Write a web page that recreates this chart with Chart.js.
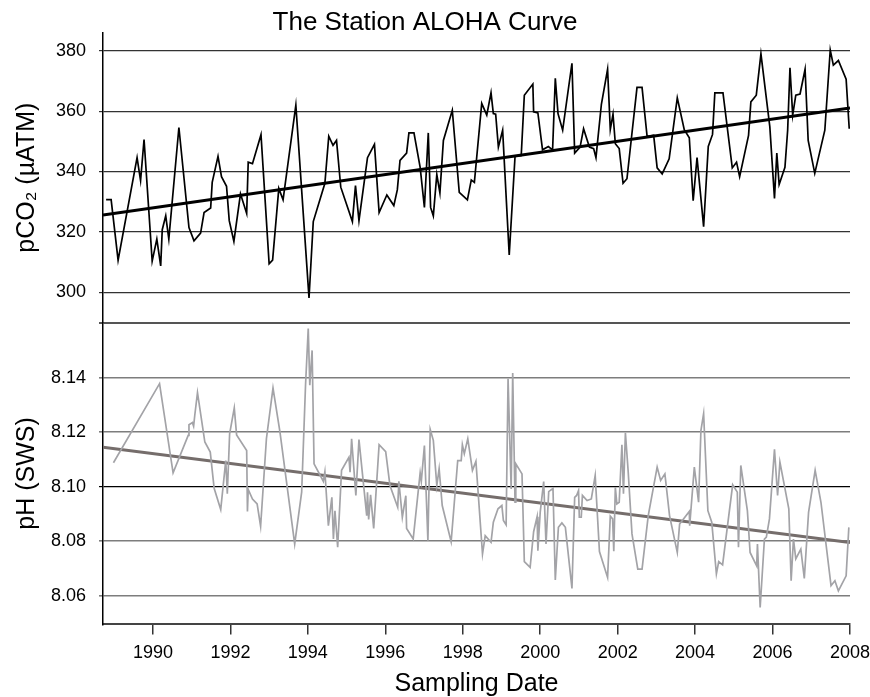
<!DOCTYPE html>
<html>
<head>
<meta charset="utf-8">
<title>The Station ALOHA Curve</title>
<script src="https://cdn.jsdelivr.net/npm/chart.js@4/dist/chart.umd.min.js"></script>
<style>
    html, body { margin: 0; padding: 0; background: #fff; }
    #wrap { width: 870px; height: 697px; }
</style>
</head>
<body>
<div id="wrap"><canvas id="alohaChart" width="870" height="697"></canvas></div>
<script>
"use strict";
// values (decimal years)
const pco2Dates = [
    1988.79, 1988.92, 1989.10, 1989.59, 1989.68, 1989.77, 1989.98, 1990.10, 1990.20, 1990.24,
    1990.33, 1990.41, 1990.67, 1990.93, 1991.06, 1991.23, 1991.32, 1991.49, 1991.53, 1991.68,
    1991.77, 1991.90, 1991.97, 1992.09, 1992.26, 1992.42, 1992.46, 1992.57, 1992.79, 1993.00,
    1993.09, 1993.25, 1993.36, 1993.69, 1994.03, 1994.14, 1994.44, 1994.54, 1994.65, 1994.74,
    1994.85, 1995.15, 1995.23, 1995.32, 1995.54, 1995.72, 1995.84, 1996.04, 1996.22, 1996.31,
    1996.38, 1996.55, 1996.61, 1996.74, 1996.90, 1997.01, 1997.11, 1997.17, 1997.24, 1997.33,
    1997.41, 1997.50, 1997.73, 1997.91, 1998.12, 1998.22, 1998.30, 1998.49, 1998.62, 1998.73,
    1998.79, 1998.85, 1998.92, 1999.03, 1999.20, 1999.35, 1999.51, 1999.59, 1999.81, 1999.83,
    1999.94, 2000.06, 2000.21, 2000.32, 2000.39, 2000.46, 2000.58, 2000.82, 2000.89, 2001.03,
    2001.12, 2001.27, 2001.38, 2001.44, 2001.58, 2001.74, 2001.81, 2001.88, 2001.94, 2002.04,
    2002.14, 2002.24, 2002.50, 2002.63, 2002.76, 2002.93, 2003.02, 2003.15, 2003.33, 2003.54,
    2003.72, 2003.85, 2003.95, 2004.05, 2004.22, 2004.34, 2004.45, 2004.51, 2004.72, 2004.96,
    2005.07, 2005.15, 2005.38, 2005.44, 2005.58, 2005.70, 2005.93, 2006.05, 2006.11, 2006.17,
    2006.32, 2006.39, 2006.45, 2006.52, 2006.60, 2006.71, 2006.84, 2006.92, 2007.09, 2007.35,
    2007.49, 2007.57, 2007.70, 2007.90, 2007.98
];
const pco2Values = [
    330.7, 330.7, 310.6, 344.6, 337.0, 350.6, 310.3, 317.6, 308.7, 320.7,
    325.3, 317.6, 354.6, 321.4, 317.0, 319.6, 326.4, 327.9, 336.4, 345.0,
    338.3, 335.1, 323.7, 316.8, 332.6, 326.1, 343.1, 342.6, 352.2, 309.4,
    310.6, 334.4, 330.6, 362.0, 298.1, 323.4, 336.1, 351.7, 348.7, 350.3,
    334.8, 323.4, 335.3, 323.7, 344.6, 349.0, 326.4, 332.2, 328.7, 333.9,
    343.7, 346.1, 352.8, 352.8, 341.4, 328.1, 352.8, 328.1, 325.3, 339.0,
    332.9, 350.3, 360.3, 333.1, 330.6, 337.2, 336.4, 362.6, 358.7, 366.1,
    359.2, 359.0, 348.1, 353.7, 312.3, 345.0, 345.3, 365.3, 369.0, 359.8,
    359.4, 347.2, 348.3, 347.2, 370.9, 359.2, 353.7, 375.9, 346.1, 348.1,
    354.2, 348.1, 347.6, 344.6, 362.3, 373.9, 353.9, 359.0, 349.2, 347.6,
    336.1, 337.6, 367.9, 367.9, 351.7, 352.0, 341.2, 339.2, 344.2, 364.4,
    353.9, 351.2, 330.3, 344.6, 321.7, 348.3, 352.3, 366.1, 366.1, 341.2,
    343.1, 338.3, 352.0, 363.1, 365.3, 379.0, 354.8, 331.1, 346.1, 335.7,
    341.4, 353.7, 374.4, 358.7, 365.3, 365.7, 373.9, 350.3, 339.4, 353.7,
    380.3, 375.3, 376.8, 370.6, 354.2
];
const pco2TrendDates = [1988.71, 2008.0];
const pco2TrendValues = [325.6, 361.1];

const phDates = [
    1988.98, 1990.17, 1990.52, 1990.91, 1990.93, 1991.02, 1991.05, 1991.08, 1991.15, 1991.34,
    1991.48, 1991.58, 1991.75, 1991.88, 1991.92, 1991.98, 1992.10, 1992.16, 1992.42, 1992.44,
    1992.46, 1992.57, 1992.69, 1992.78, 1992.93, 1993.10, 1993.28, 1993.66, 1993.84, 1993.94,
    1994.01, 1994.05, 1994.11, 1994.16, 1994.40, 1994.44, 1994.47, 1994.53, 1994.62, 1994.66,
    1994.70, 1994.77, 1994.87, 1995.06, 1995.09, 1995.13, 1995.24, 1995.32, 1995.52, 1995.54,
    1995.57, 1995.62, 1995.70, 1995.84, 1996.01, 1996.12, 1996.32, 1996.35, 1996.44, 1996.53,
    1996.55, 1996.72, 1996.90, 1996.93, 1997.01, 1997.10, 1997.16, 1997.24, 1997.33, 1997.39,
    1997.47, 1997.70, 1997.87, 1997.96, 1997.99, 1998.04, 1998.13, 1998.25, 1998.34, 1998.51,
    1998.58, 1998.73, 1998.79, 1998.91, 1999.01, 1999.05, 1999.12, 1999.17, 1999.25, 1999.29,
    1999.35, 1999.37, 1999.53, 1999.59, 1999.74, 1999.83, 1999.92, 1999.94, 2000.00, 2000.09,
    2000.15, 2000.22, 2000.33, 2000.39, 2000.47, 2000.56, 2000.65, 2000.82, 2000.89, 2000.94,
    2000.99, 2001.01, 2001.06, 2001.09, 2001.21, 2001.32, 2001.42, 2001.53, 2001.74, 2001.81,
    2001.87, 2001.90, 2001.94, 2001.98, 2002.04, 2002.11, 2002.15, 2002.20, 2002.27, 2002.37,
    2002.52, 2002.63, 2002.79, 2003.02, 2003.11, 2003.22, 2003.34, 2003.54, 2003.60, 2003.85,
    2003.86, 2003.98, 2004.09, 2004.15, 2004.22, 2004.33, 2004.43, 2004.55, 2004.61, 2004.71,
    2004.97, 2005.09, 2005.12, 2005.18, 2005.35, 2005.42, 2005.59, 2005.61, 2005.68, 2005.79,
    2005.84, 2005.92, 2006.05, 2006.13, 2006.19, 2006.42, 2006.48, 2006.54, 2006.60, 2006.73,
    2006.82, 2006.93, 2007.10, 2007.25, 2007.51, 2007.61, 2007.70, 2007.90, 2007.97
];
const phValues = [
    8.1088, 8.1378, 8.1051, 8.1188, 8.1227, 8.1235, 8.1222, 8.1262, 8.1345, 8.1164,
    8.1127, 8.0994, 8.0916, 8.1096, 8.0974, 8.1194, 8.1289, 8.1190, 8.1133, 8.0909,
    8.0990, 8.0955, 8.0937, 8.0855, 8.1176, 8.1362, 8.1200, 8.0790, 8.0980, 8.1372,
    8.1580, 8.1372, 8.1500, 8.1084, 8.1020, 8.1055, 8.0990, 8.0857, 8.0961, 8.0808,
    8.0912, 8.0778, 8.1060, 8.1108, 8.1053, 8.1176, 8.0968, 8.1173, 8.0894, 8.0980,
    8.0880, 8.0970, 8.0847, 8.1154, 8.1129, 8.1004, 8.0925, 8.1020, 8.0888, 8.0967,
    8.0847, 8.0808, 8.1051, 8.1020, 8.1151, 8.0802, 8.1210, 8.1170, 8.1004, 8.1066,
    8.0931, 8.0798, 8.1096, 8.1096, 8.1154, 8.1121, 8.1176, 8.1060, 8.1093, 8.0753,
    8.0820, 8.0796, 8.0870, 8.0919, 8.0931, 8.0876, 8.0860, 8.1396, 8.0992, 8.1417,
    8.0943, 8.1084, 8.1047, 8.0725, 8.0704, 8.0835, 8.0890, 8.0765, 8.0906, 8.1019,
    8.0790, 8.0982, 8.0994, 8.0658, 8.0851, 8.0867, 8.0851, 8.0627, 8.0961, 8.0968,
    8.0986, 8.0888, 8.0888, 8.0968, 8.0949, 8.0955, 8.1041, 8.0762, 8.0667, 8.0892,
    8.0882, 8.0763, 8.0998, 8.0937, 8.0943, 8.1154, 8.0974, 8.1198, 8.1060, 8.0827,
    8.0698, 8.0698, 8.0894, 8.1072, 8.1023, 8.1047, 8.0894, 8.0759, 8.0863, 8.0909,
    8.0857, 8.1072, 8.0943, 8.1206, 8.1268, 8.0912, 8.0870, 8.0680, 8.0725, 8.0713,
    8.1007, 8.0980, 8.0778, 8.1078, 8.0912, 8.0759, 8.0710, 8.0790, 8.0557, 8.0808,
    8.0815, 8.0882, 8.1137, 8.0968, 8.1090, 8.0919, 8.0655, 8.0808, 8.0735, 8.0771,
    8.0664, 8.0906, 8.1060, 8.0943, 8.0637, 8.0655, 8.0618, 8.0673, 8.0851
];
const phTrendDates = [1988.71, 2008.0];
const phTrendValues = [8.1145, 8.0795];

const yearTicks = [1990, 1992, 1994, 1996, 1998, 2000, 2002, 2004, 2006, 2008];
const pco2Ticks = [300, 320, 340, 360, 380];
const phTicks = [8.06, 8.08, 8.10, 8.12, 8.14, 8.16];

const fontFamily = "'Liberation Sans', Arial, Helvetica, sans-serif";

function toPoints(dates, values) {
    return dates.map((d, i) => ({ x: d, y: values[i] }));
}

function setTicks(list) {
    return function (scale) {
        scale.ticks = list.map(v => ({ value: v }));
    };
}

// keep the plot area where the reference has it, labels may hang over
function noEdgePadding(scale) {
    scale.paddingLeft = 0;
    scale.paddingRight = 0;
    scale.paddingTop = 0;
    scale.paddingBottom = 0;
}

const ctx = document.getElementById('alohaChart').getContext('2d');
new Chart(ctx, {
    type: 'line',
    data: {
        datasets: [
            {
                label: 'pCO2',
                data: toPoints(pco2Dates, pco2Values),
                yAxisID: 'yCO2',
                borderColor: '#000',
                borderWidth: 1.7,
                pointRadius: 0,
                tension: 0
            },
            {
                label: 'pCO2 trend',
                data: toPoints(pco2TrendDates, pco2TrendValues),
                yAxisID: 'yCO2',
                borderColor: '#000',
                borderWidth: 3,
                pointRadius: 0
            },
            {
                label: 'pH',
                data: toPoints(phDates, phValues),
                yAxisID: 'yPH',
                borderColor: '#a3a3a7',
                borderWidth: 1.7,
                pointRadius: 0,
                tension: 0
            },
            {
                label: 'pH trend',
                data: toPoints(phTrendDates, phTrendValues),
                yAxisID: 'yPH',
                borderColor: '#756d6b',
                borderWidth: 3,
                pointRadius: 0
            }
        ]
    },
    options: {
        responsive: false,
        animation: false,
        layout: { padding: { left: 0, right: 20, top: 0, bottom: 0 } },
        plugins: {
            legend: { display: false },
            tooltip: { enabled: false },
            title: {
                display: true,
                text: 'The Station ALOHA Curve',
                color: '#000',
                font: { family: fontFamily, size: 26, weight: 'normal', lineHeight: 0.8 },
                padding: { top: 12, bottom: 0 }
            }
        },
        scales: {
            x: {
                type: 'linear',
                min: 1988.71,
                max: 2008.0,
                afterBuildTicks: setTicks(yearTicks),
                afterFit: noEdgePadding,
                grid: {
                    drawOnChartArea: false,
                    drawTicks: true,
                    tickLength: 10,
                    color: '#333',
                    lineWidth: 1.5
                },
                border: { display: true, color: '#444', width: 2 },
                ticks: {
                    color: '#000',
                    padding: 8,
                    maxRotation: 0,
                    autoSkip: false,
                    font: { family: fontFamily, size: 18 },
                    callback: v => String(v)
                },
                title: {
                    display: true,
                    text: 'Sampling Date',
                    color: '#000',
                    font: { family: fontFamily, size: 25, lineHeight: 1.0 },
                    padding: { top: 0, bottom: 0 }
                }
            },
            yPH: {
                type: 'linear',
                position: 'left',
                stack: 'panels',
                stackWeight: 301,
                min: 8.0495,
                max: 8.1602,
                afterBuildTicks: setTicks(phTicks),
                afterFit: scale => { scale.width = 103; },
                grid: {
                    drawTicks: true,
                    tickLength: 4,
                    color: c => {
                        const v = c.tick ? c.tick.value : 0;
                        if (Math.abs(v - 8.16) < 1e-6) return '#555';
                        if (Math.abs(v - 8.10) < 1e-6) return '#000';
                        return '#7d7d7d';
                    },
                    lineWidth: c => {
                        const v = c.tick ? c.tick.value : 0;
                        if (Math.abs(v - 8.16) < 1e-6) return 2;
                        if (Math.abs(v - 8.10) < 1e-6) return 1.2;
                        return 1.6;
                    }
                },
                border: { display: true, color: '#000', width: 1.5 },
                ticks: {
                    color: '#000',
                    padding: 13,
                    font: { family: fontFamily, size: 18 },
                    callback: v => (Math.abs(v - 8.16) < 1e-6 ? '' : v.toFixed(2))
                },
                title: {
                    display: true,
                    text: 'pH (SWS)',
                    color: '#000',
                    font: { family: fontFamily, size: 25 },
                    padding: { top: 12, bottom: 0 }
                }
            },
            yCO2: {
                type: 'linear',
                position: 'left',
                stack: 'panels',
                stackWeight: 289,
                min: 289.9,
                max: 386,
                afterBuildTicks: setTicks(pco2Ticks),
                afterFit: scale => { scale.width = 103; },
                grid: {
                    drawTicks: true,
                    tickLength: 4,
                    color: '#333',
                    lineWidth: 1.2
                },
                border: { display: true, color: '#000', width: 1.5 },
                ticks: {
                    color: '#000',
                    padding: 13,
                    font: { family: fontFamily, size: 18 },
                    callback: v => String(v)
                },
                title: {
                    display: true,
                    text: 'pCO₂ (µATM)',
                    color: '#000',
                    font: { family: fontFamily, size: 25 },
                    padding: { top: 12, bottom: 0 }
                }
            }
        }
    }
});
</script>
</body>
</html>
